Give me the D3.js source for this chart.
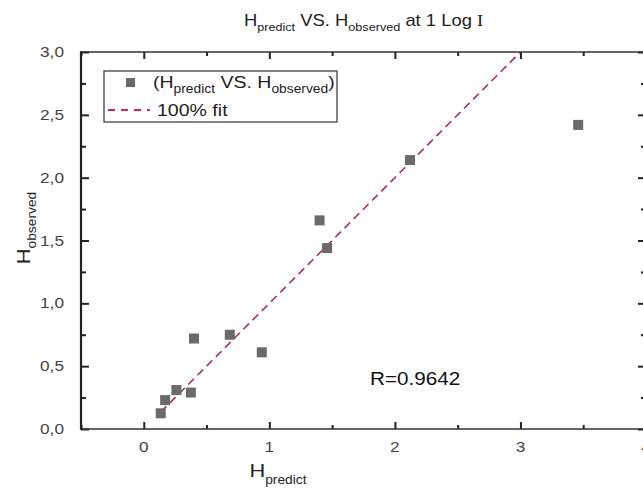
<!DOCTYPE html>
<html>
<head>
<meta charset="utf-8">
<script src="https://cdn.jsdelivr.net/npm/d3@7"></script>
<style>
  body { margin: 0; background: #fff; }
  svg text { font-family: "Liberation Sans", Arial, sans-serif; }
</style>
</head>
<body>
<svg id="chart" width="643" height="491"></svg>
<script>
// ---- data ----
const hPredict  = [0.135, 0.17, 0.26, 0.375, 0.40, 0.685, 0.94, 1.40, 1.46, 2.12, 3.46];
const hObserved = [0.125, 0.23, 0.31, 0.29, 0.72, 0.75, 0.61, 1.66, 1.44, 2.14, 2.42];
const fitX = [0.135, 3.0];          // 100% fit line, y = x
const xTicks = [0, 1, 2, 3, 4];
const yTicks = [0, 0.5, 1.0, 1.5, 2.0, 2.5, 3.0];
const rLabel = "R=0.9642";

// ---- layout ----
const svg = d3.select('#chart');
const pLeft = 81, pRight = 646, pTop = 52, pBottom = 429;

const x = d3.scaleLinear().domain([-0.5, 4]).range([pLeft, pRight]);
const y = d3.scaleLinear().domain([0, 3]).range([pBottom, pTop]);

const axisColor = '#222';
const labelColor = '#444';
const markerColor = '#6a6a6a';
const fitColor = '#a8304e';
const stretch = 1.15; // text in the picture is a little wider than Arial

// clip for plot area
svg.append('defs').append('clipPath').attr('id', 'plot-clip')
  .append('rect').attr('x', pLeft).attr('y', pTop)
  .attr('width', pRight - pLeft).attr('height', pBottom - pTop);

// ---- axes (ticks point inward, like Origin) ----
const xMinor = d3.range(-0.5, 4.01, 0.5);
const yMinor = d3.range(0, 3.01, 0.25);

function isMajor(v, step) { return Math.abs(v / step - Math.round(v / step)) < 1e-6; }

// bottom
svg.append('g').attr('transform', `translate(0,${pBottom})`)
  .call(d3.axisBottom(x).tickValues(xMinor).tickSize(0).tickFormat(''))
  .call(g => g.select('.domain').remove())
  .call(g => g.selectAll('.tick line').attr('y2', d => isMajor(d, 1) ? -7 : -4)
    .attr('stroke', axisColor).attr('stroke-width', 2));
// top
svg.append('g').attr('transform', `translate(0,${pTop})`)
  .call(d3.axisTop(x).tickValues(xMinor).tickSize(0).tickFormat(''))
  .call(g => g.select('.domain').remove())
  .call(g => g.selectAll('.tick line').attr('y2', d => isMajor(d, 1) ? 7 : 4)
    .attr('stroke', axisColor).attr('stroke-width', 2));
// left
svg.append('g').attr('transform', `translate(${pLeft},0)`)
  .call(d3.axisLeft(y).tickValues(yMinor).tickSize(0).tickFormat(''))
  .call(g => g.select('.domain').remove())
  .call(g => g.selectAll('.tick line').attr('x2', d => isMajor(d, 0.5) ? 8 : 5)
    .attr('stroke', axisColor).attr('stroke-width', 2));
// right
svg.append('g').attr('transform', `translate(${pRight},0)`)
  .call(d3.axisRight(y).tickValues(yMinor).tickSize(0).tickFormat(''))
  .call(g => g.select('.domain').remove())
  .call(g => g.selectAll('.tick line').attr('x2', d => isMajor(d, 0.5) ? -8 : -5)
    .attr('stroke', axisColor).attr('stroke-width', 2));

// frame
svg.append('rect')
  .attr('x', pLeft).attr('y', pTop)
  .attr('width', pRight - pLeft).attr('height', pBottom - pTop)
  .attr('fill', 'none').attr('stroke', '#333').attr('stroke-width', 1.5);
svg.append('line').attr('x1', pLeft).attr('x2', pLeft).attr('y1', pTop - 0.75).attr('y2', pBottom + 0.75)
  .attr('stroke', axisColor).attr('stroke-width', 2.2);

// tick labels
svg.append('g').selectAll('text').data(xTicks).join('text')
  .attr('transform', d => `translate(${x(d)},${pBottom + 23}) scale(${stretch},1)`)
  .attr('text-anchor', 'middle').attr('font-size', 15).attr('fill', labelColor)
  .text(d => d);

const commaFmt = d => d3.format('.1f')(d).replace('.', ',');
svg.append('g').selectAll('text').data(yTicks).join('text')
  .attr('transform', d => `translate(${pLeft - 17},${y(d) + 5}) scale(${stretch},1)`)
  .attr('text-anchor', 'end').attr('font-size', 15).attr('fill', labelColor)
  .text(commaFmt);

// ---- title ----
const title = svg.append('text')
  .attr('transform', `translate(${(pLeft + pRight) / 2},26) scale(${stretch},1)`)
  .attr('text-anchor', 'middle').attr('font-size', 16).attr('fill', '#222');
title.append('tspan').text('H');
title.append('tspan').attr('font-size', 11).attr('dy', 5).text('predict');
title.append('tspan').attr('dy', -5).text(' VS. H');
title.append('tspan').attr('font-size', 11).attr('dy', 5).text('observed');
title.append('tspan').attr('dy', -5).text(' at 1 Log ');
title.append('tspan').attr('font-family', '"Liberation Serif", serif').text('I');

// axis titles
const xt = svg.append('text')
  .attr('transform', `translate(278,477) scale(${stretch},1)`)
  .attr('text-anchor', 'middle').attr('font-size', 19).attr('fill', '#222');
xt.append('tspan').text('H');
xt.append('tspan').attr('font-size', 12).attr('dy', 7).text('predict');

const yt = svg.append('text')
  .attr('transform', `translate(30,228) rotate(-90) scale(${stretch},1)`)
  .attr('text-anchor', 'middle').attr('font-size', 19).attr('fill', '#222');
yt.append('tspan').text('H');
yt.append('tspan').attr('font-size', 12).attr('dy', 6).text('observed');

// ---- fit line ----
svg.append('line')
  .attr('clip-path', 'url(#plot-clip)')
  .attr('x1', x(fitX[0])).attr('y1', y(fitX[0]))
  .attr('x2', x(fitX[1])).attr('y2', y(fitX[1]))
  .attr('stroke', fitColor).attr('stroke-width', 1.6)
  .attr('stroke-dasharray', '8,5');

// ---- points ----
const pts = hPredict.map((v, i) => ({ px: v, py: hObserved[i] }));
svg.append('g').selectAll('rect').data(pts).join('rect')
  .attr('x', d => x(d.px) - 5).attr('y', d => y(d.py) - 5)
  .attr('width', 10).attr('height', 10)
  .attr('fill', markerColor);

// ---- R label ----
svg.append('text')
  .attr('transform', `translate(370,385) scale(${stretch},1)`)
  .attr('font-size', 18).attr('fill', '#111').text(rLabel);

// ---- legend ----
const lg = svg.append('g');
lg.append('rect').attr('x', 104).attr('y', 71).attr('width', 233).attr('height', 51)
  .attr('fill', '#fff').attr('stroke', '#333').attr('stroke-width', 1.2);
lg.append('rect').attr('x', 126).attr('y', 78).attr('width', 9).attr('height', 9).attr('fill', markerColor);
const l1 = lg.append('text')
  .attr('transform', `translate(153,88) scale(${stretch},1)`)
  .attr('font-size', 17).attr('fill', '#222');
l1.append('tspan').text('(H');
l1.append('tspan').attr('font-size', 12).attr('dy', 5).text('predict');
l1.append('tspan').attr('dy', -5).text(' VS. H');
l1.append('tspan').attr('font-size', 12).attr('dy', 5).text('observed');
l1.append('tspan').attr('dy', -5).text(')');
lg.append('line').attr('x1', 108).attr('x2', 150).attr('y1', 110).attr('y2', 110)
  .attr('stroke', '#c8285a').attr('stroke-width', 2).attr('stroke-dasharray', '7,6');
lg.append('text')
  .attr('transform', `translate(157,116) scale(${stretch},1)`)
  .attr('font-size', 17).attr('fill', '#222').text('100% fit');
</script>
</body>
</html>
